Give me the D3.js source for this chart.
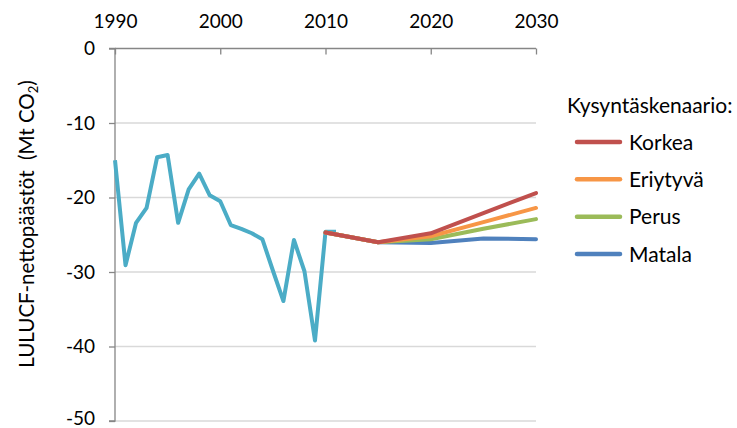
<!DOCTYPE html>
<html><head><meta charset="utf-8">
<script src="https://cdn.jsdelivr.net/npm/d3@7"></script>
<style>body{margin:0;background:#fff}svg{display:block}text{font-family:Lato,"Open Sans",sans-serif;fill:#000}</style>
</head><body><svg id="c" width="737" height="428"></svg>
<script>
const histYears = [1990,1991,1992,1993,1994,1995,1996,1997,1998,1999,2000,2001,2002,2003,2004,2005,2006,2007,2008,2009,2010,2011];
const histValues = [-15.0,-29.1,-23.4,-21.4,-14.6,-14.3,-23.4,-18.9,-16.8,-19.7,-20.5,-23.7,-24.2,-24.8,-25.6,-29.8,-33.9,-25.7,-29.9,-39.2,-24.6,-24.6];
const scenYears = [2010,2015,2020,2025,2030];
const seriesNames = ["Korkea","Eriytyvä","Perus","Matala"];
const korkea   = [-24.7,-26.0,-24.8,-22.1,-19.4];
const eriytyva = [-24.7,-26.0,-25.2,-23.3,-21.4];
const perus    = [-24.7,-26.0,-25.6,-24.2,-22.9];
const matala   = [-24.7,-26.0,-26.1,-25.5,-25.6];
const xTicks = [1990,2000,2010,2020,2030];
const yTicks = [0,-10,-20,-30,-40,-50];
const colors = {"Korkea":"#C0504D","Eriytyvä":"#F79646","Perus":"#9BBB59","Matala":"#4F81BD"};
const histColor = "#4BACC6";

const svg = d3.select("#c");
const x = d3.scaleLinear().domain([1990,2030]).range([115,536]);
const y = d3.scaleLinear().domain([0,-50]).range([48.5,421]);

// gridlines
svg.append("g").selectAll("line").data(yTicks.filter(d=>d!==0)).join("line")
  .attr("x1",x(1990)).attr("x2",x(2030)).attr("y1",d=>y(d)).attr("y2",d=>y(d))
  .attr("stroke","#d9d9d9").attr("stroke-width",1.3);

// y axis
const ya = svg.append("g").attr("transform",`translate(${x(1990)},0)`)
  .call(d3.axisLeft(y).tickValues(yTicks).tickSize(6).tickPadding(14).tickFormat(d=>String(d)));
ya.selectAll("path,line").attr("stroke","#868686").attr("stroke-width",1.3);
ya.selectAll("text").attr("font-size",19).style("font-family","Lato,'Open Sans',sans-serif");
ya.selectAll(".tick").filter(d=>d===-50).select("text").attr("dy","0.2em");
ya.select(".domain").attr("d",`M-6,${y(0)}H0V${y(-50)}H-6`);

// x axis at top (y=0)
const xa = svg.append("g").attr("transform",`translate(0,${y(0)})`)
  .call(d3.axisTop(x).tickValues(xTicks).tickSize(-6).tickPadding(21).tickFormat(d=>String(d)));
xa.selectAll("path,line").attr("stroke","#868686").attr("stroke-width",1.3);
xa.select(".domain").attr("d",`M${x(1990)},0H${x(2030)}`);
xa.selectAll("text").attr("font-size",19).style("font-family","Lato,'Open Sans',sans-serif");

const line = d3.line().x(d=>x(d[0])).y(d=>y(d[1]));
// historical
svg.append("path").datum(histYears.map((yr,i)=>[yr,histValues[i]]))
  .attr("d",line).attr("fill","none").attr("stroke",histColor).attr("stroke-width",4).attr("stroke-linejoin","round");

const scen = {"Korkea":korkea,"Eriytyvä":eriytyva,"Perus":perus,"Matala":matala};
["Matala","Perus","Eriytyvä","Korkea"].forEach(n=>{
  svg.append("path").datum(scenYears.map((yr,i)=>[yr,scen[n][i]]))
    .attr("d",line).attr("fill","none").attr("stroke",colors[n]).attr("stroke-width",4)
    .attr("stroke-linejoin","round").attr("stroke-linecap","round");
});

// y label
svg.append("text").attr("transform","translate(34,224) rotate(-90)").attr("text-anchor","middle")
  .attr("font-size",20.5).style("white-space","pre")
  .html('LULUCF-nettopäästöt  (Mt CO<tspan font-size="13" dy="4">2</tspan><tspan dy="-4">)</tspan>');

// legend
const lg = svg.append("g");
lg.append("text").attr("x",567).attr("y",113).attr("font-size",21).text("Kysyntäskenaario:");
const ly = d3.scalePoint().domain(seriesNames).range([142,254]);
seriesNames.forEach(n=>{
  lg.append("line").attr("x1",577).attr("x2",620).attr("y1",ly(n)).attr("y2",ly(n))
    .attr("stroke",colors[n]).attr("stroke-width",4.5).attr("stroke-linecap","round");
  lg.append("text").attr("x",629).attr("y",ly(n)+7.5).attr("font-size",21).text(n);
});
</script></body></html>
